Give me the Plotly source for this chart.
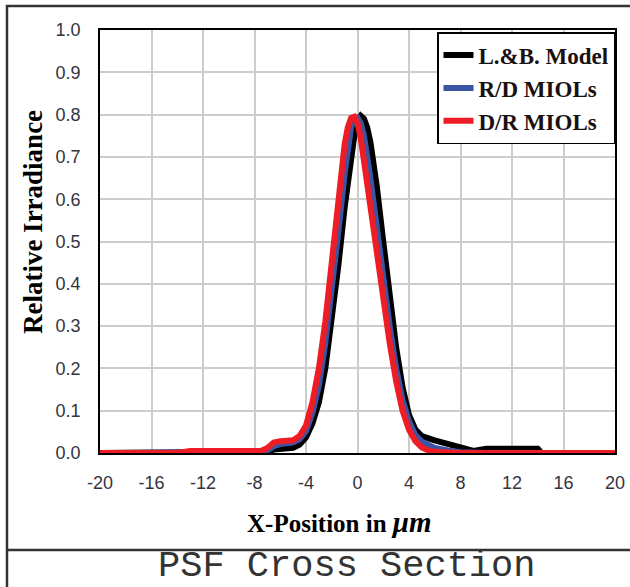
import plotly.graph_objects as go

# X positions (micrometres) at which the curves were read
x_lb = [-20, -14, -13, -11, -8, -7, -6.5, -6, -5.5, -5, -4.5, -4, -3.5, -3, -2.5, -2, -1.5, -1, -0.5, -0.25,
        0, 0.25, 0.5, 0.75, 1, 1.5, 2, 2.5, 3, 3.5, 4, 4.5, 5, 6, 7, 8, 8.5, 9, 10, 12, 14, 14.3, 20]
y_lb = [0, 0, 0.003, 0.003, 0, 0.003, 0.008, 0.01, 0.01, 0.012, 0.02, 0.037, 0.07, 0.12, 0.2, 0.31, 0.44, 0.58, 0.7, 0.75,
        0.785, 0.797, 0.79, 0.77, 0.735, 0.63, 0.5, 0.37, 0.25, 0.155, 0.09, 0.055, 0.04, 0.03, 0.022, 0.014, 0.008, 0.005, 0.01, 0.01, 0.01, 0, 0]

x_rd = [-20, -12, -10, -8, -7, -6.5, -6, -5.5, -5, -4.5, -4, -3.5, -3, -2.5, -2, -1.5, -1, -0.75, -0.5, -0.25,
        0, 0.25, 0.5, 1, 1.5, 2, 2.5, 3, 3.5, 4, 4.5, 5, 5.5, 6, 7, 8, 10, 20]
y_rd = [0, 0.003, 0.003, 0.002, 0.006, 0.016, 0.021, 0.023, 0.025, 0.032, 0.052, 0.095, 0.16, 0.26, 0.38, 0.52, 0.66, 0.73, 0.77, 0.792,
        0.793, 0.78, 0.75, 0.65, 0.53, 0.41, 0.3, 0.2, 0.125, 0.075, 0.042, 0.027, 0.018, 0.012, 0.006, 0.002, 0, 0]

x_dr = [-20, -14, -13, -10.7, -8, -7.5, -7, -6.5, -6, -5.5, -5, -4.5, -4, -3.5, -3, -2.5, -2, -1.5, -1, -0.75, -0.5, -0.25,
        0, 0.25, 0.5, 1, 1.5, 2, 2.5, 3, 3.5, 4, 4.5, 5, 5.5, 6, 7, 8, 20]
y_dr = [0, 0, 0.005, 0.005, 0.003, 0.005, 0.012, 0.025, 0.028, 0.028, 0.03, 0.04, 0.065, 0.12, 0.2, 0.31, 0.45, 0.6, 0.73, 0.77, 0.792, 0.795,
        0.78, 0.745, 0.69, 0.58, 0.47, 0.37, 0.26, 0.17, 0.1, 0.055, 0.028, 0.013, 0.006, 0.003, 0.001, 0, 0]

names = ["L.&B. Model", "R/D MIOLs", "D/R MIOLs"]
colors = ["#000000", "#3a55a4", "#ee1c25"]

x_ticks = list(range(-20, 21, 4))
y_ticks = [i / 10 for i in range(0, 11)]

fig = go.Figure()
for i, (xs, ys) in enumerate([(x_lb, y_lb), (x_rd, y_rd), (x_dr, y_dr)]):
    fig.add_trace(go.Scatter(x=xs, y=ys, mode="lines", name=names[i],
                             line=dict(color=colors[i], width=6),
                             legendgroup=str(i)))

tick_font = dict(family="Arial, Liberation Sans", size=18, color="#333340")
serif = "Liberation Serif, Times New Roman, serif"

fig.update_layout(
    width=630, height=587,
    margin=dict(l=100, r=15, t=30, b=134, autoexpand=False),
    paper_bgcolor="white", plot_bgcolor="white",
    showlegend=True,
    legend=dict(x=1.0, y=0.995, xanchor="right", yanchor="top",
                bordercolor="black", borderwidth=1.5, bgcolor="white",
                font=dict(family=serif, size=23, color="#1a1010", weight="bold"),
                traceorder="grouped", tracegroupgap=0, itemwidth=30),
    xaxis=dict(range=[-20, 20], tickvals=x_ticks, ticktext=[str(v) for v in x_ticks],
               showgrid=True, gridcolor="#cccccc", gridwidth=1.5, automargin=False,
               zeroline=False, showline=True, linecolor="black", linewidth=1.5, mirror=True,
               ticks="", ticklabelstandoff=13, tickfont=tick_font),
    yaxis=dict(range=[0, 1], tickvals=y_ticks, ticktext=[f"{v:.1f}" for v in y_ticks],
               showgrid=True, gridcolor="#cccccc", gridwidth=1.5, automargin=False,
               zeroline=False, showline=True, linecolor="black", linewidth=1.5, mirror=True,
               ticks="", ticklabelstandoff=14, tickfont=tick_font),
    annotations=[
        dict(text="<b>X-Position in </b><b><i style='font-size:29px'>μm</i></b>", xref="paper", yref="paper",
             x=0.466, y=-0.163, xanchor="center", yanchor="middle", showarrow=False,
             font=dict(family=serif, size=25, color="black")),
        dict(text="<b>Relative Irradiance</b>", xref="paper", yref="paper",
             x=-0.130, y=0.546, xanchor="center", yanchor="middle", showarrow=False, textangle=-90,
             font=dict(family=serif, size=27, color="black")),
        dict(text="PSF Cross Section", xref="paper", yref="paper",
             x=0.478, y=-0.268, xanchor="center", yanchor="middle", showarrow=False,
             font=dict(family="Liberation Mono, Courier New, monospace", size=37, color="#333333")),
    ],
    shapes=[
        dict(type="rect", xref="paper", yref="paper", x0=-0.1806, x1=1.3, y0=-0.4, y1=1.0567,
             line=dict(color="#333333", width=2.5), fillcolor="rgba(0,0,0,0)", layer="below"),
        dict(type="line", xref="paper", yref="paper", x0=-0.1806, x1=1.3, y0=-0.2293, y1=-0.2293,
             line=dict(color="#333333", width=2.5)),
    ],
)

fig.write_html("out.html", config={"displayModeBar": False},
               post_script="document.body.style.margin='0';document.body.style.overflow='hidden';")
